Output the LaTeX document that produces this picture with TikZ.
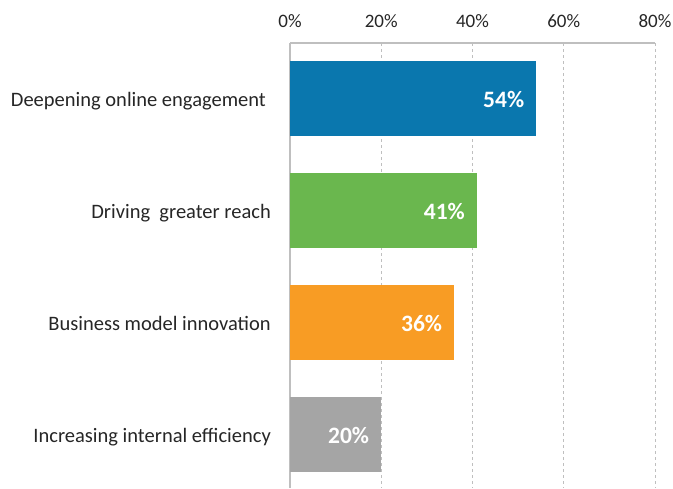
\documentclass[tikz,border=0pt]{standalone}
\usepackage{fontspec}
\setmainfont{Carlito}
\definecolor{barblue}{HTML}{0A77AE}
\definecolor{bargreen}{HTML}{6AB74E}
\definecolor{barorange}{HTML}{F89C24}
\definecolor{bargray}{HTML}{A5A5A5}
\definecolor{axisgray}{HTML}{BFBFBF}
\definecolor{labelgray}{HTML}{262626}
\tikzset{
  gridline/.style={axisgray, dashed, line width=0.8pt},
  axisline/.style={axisgray, line width=1.2pt},
  ticklabel/.style={anchor=base, text=labelgray, font=\fontsize{19}{22}\selectfont},
  catlabel/.style={anchor=base east, inner sep=0pt, text=labelgray, font=\fontsize{20.5}{24}\selectfont},
  vallabel/.style={anchor=base east, inner sep=0pt, text=white, font=\bfseries\fontsize{23.5}{27}\selectfont}
}
\begin{document}
\begin{tikzpicture}[x=1pt,y=-1pt]
  \useasboundingbox (0,0) rectangle (673,488);
  \coordinate (O) at (290,43);
  \coordinate (B) at (290,488);

  % grid and axis
  \foreach \p in {20,40,60,80}
    \draw[gridline] ({290+\p*4.5625},43) -- ({290+\p*4.5625},488);
  \draw[axisline] (O) -- (655,43);
  \draw[axisline] (O) -- (B);

  % tick labels
  \foreach \p in {0,20,40,60,80}
    \node[ticklabel] (tick\p) at ({290+\p*4.5625},27) {\p\%};

  % bars
  \foreach \v/\c/\txt [count=\i] in {54/barblue/Deepening online engagement\kern5pt,
      41/bargreen/Driving\ \ greater reach,
      36/barorange/Business model innovation,
      20/bargray/Increasing internal efficiency} {
    \pgfmathsetmacro{\yc}{98.5+(\i-1)*112}
    \fill[\c] (290,\yc-37.5) rectangle ({290+\v*4.5625},\yc+37.5);
    \node[vallabel] (val\i) at ({290+\v*4.5625-12},\yc+9) {\v\%};
    \node[catlabel] (cat\i) at (271,\yc+8) {\txt};
  }
\end{tikzpicture}
\end{document}
